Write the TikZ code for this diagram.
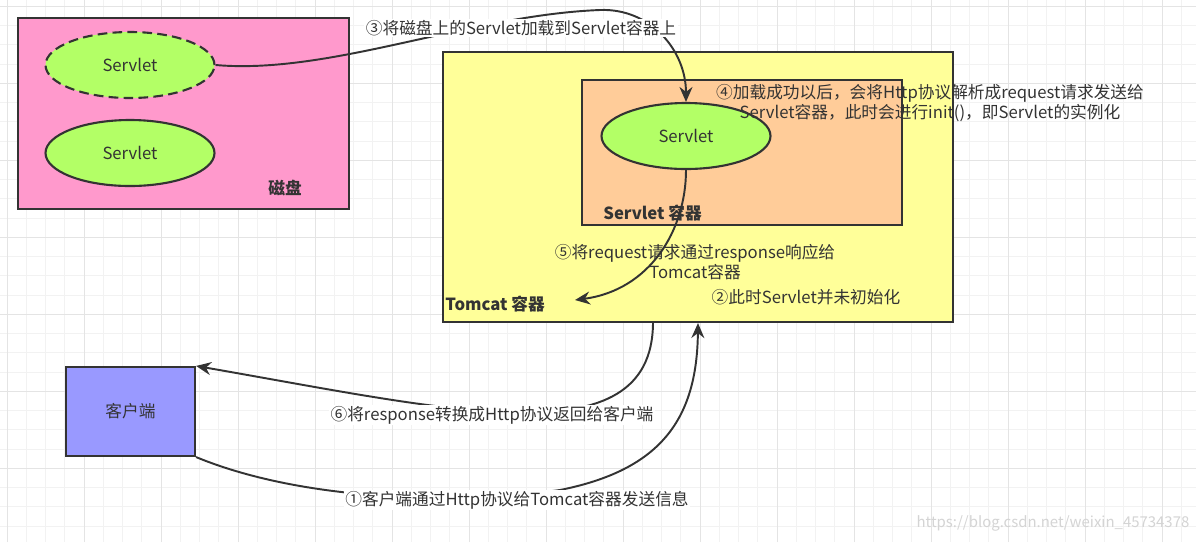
\documentclass[tikz,border=0pt]{standalone}
\usepackage{fontspec}
\setmainfont{Noto Sans CJK SC}
\usetikzlibrary{positioning, shapes.geometric, arrows.meta}
\definecolor{scDisk}{HTML}{FF99CC}
\definecolor{scTomcat}{HTML}{FFFF99}
\definecolor{scContainer}{HTML}{FFCC99}
\definecolor{scServlet}{HTML}{B3FF66}
\definecolor{scClient}{HTML}{9999FF}
\definecolor{scInk}{HTML}{333333}
\definecolor{scGridMinor}{HTML}{F2F2F2}
\definecolor{scGridMajor}{HTML}{E4E4E4}
\definecolor{scMark}{HTML}{D4D4D4}

\begin{document}
\begin{tikzpicture}[
  font=\fontsize{9.5}{11}\selectfont,
  text=scInk,
  box/.style={draw=scInk, line width=1.2pt, inner sep=0pt},
  oval/.style={ellipse, draw=scInk, line width=1.2pt, fill=scServlet,
               minimum width=3.38cm, minimum height=1.32cm},
  arr/.style={-{Stealth[length=3mm, width=2.6mm, inset=1mm]}, line width=1.1pt, draw=scInk},
  lab/.style={align=center, inner sep=1pt},
  tag/.style={lab, fill=white, inner ysep=0.5pt},
  title/.style={font=\fontsize{9.5}{11}\selectfont\bfseries, inner sep=0pt}
]

\useasboundingbox (0,0) rectangle (23.92,-10.84);
\fill[white] (0,0) rectangle (23.92,-10.84);

% background grid
\begin{scope}[shift={(0.14,-0.125)}]
  \draw[scGridMinor, line width=0.5pt, step=0.385cm] (-0.14,0.125) grid (23.78,-10.715);
  \draw[scGridMajor, line width=0.5pt, step=1.54cm] (-0.14,0.125) grid (23.78,-10.715);
\end{scope}

% ===== Disk =====
\node[box, fill=scDisk, minimum width=6.62cm, minimum height=3.82cm] (disk) at (3.67,-2.27) {};
\node[oval, dash pattern=on 5.5pt off 3pt] (dsrv) at (2.6,-1.3) {Servlet};
\node[oval] (ssrv) at (2.6,-3.06) {Servlet};
\node[title] (diskLab) at (5.7,-3.76) {磁盘};

% ===== Tomcat =====
\node[box, fill=scTomcat, minimum width=10.2cm, minimum height=5.4cm] (tc) at (13.96,-3.74) {};
\node[box, fill=scContainer, minimum width=6.4cm, minimum height=2.9cm] (sc) at (14.84,-3.05) {};
\node[oval] (srv) at (13.72,-2.72) {Servlet};
\node[title, anchor=west] (scLab) at (12.06,-4.26) {Servlet 容器};
\node[title, anchor=west] (tcLab) at (8.9,-6.08) {Tomcat 容器};

% ===== Client =====
\node[box, fill=scClient, minimum width=2.58cm, minimum height=1.78cm] (client) at (2.61,-8.23) {客户端};

% connectors
\coordinate (t5) at (11.5,-6.0);

\draw[arr] (dsrv.east) .. controls (6.6,-1.5) and (9.4,-0.3) .. (12.0,-0.2)
           .. controls (13.0,-0.16) and (13.72,-1.0) .. (srv.north);
\draw[arr] (srv.south) .. controls (13.72,-4.6) and (13.0,-5.8) .. (t5);
\draw[arr] (client.south east) .. controls (6.0,-10.0) and (9.0,-10.1) .. (11.2,-9.8)
           .. controls (13.2,-9.4) and (13.94,-8.4) .. (tc.south);
\draw[arr] ([xshift=-0.9cm]tc.south) .. controls (13.04,-9.2) and (9.0,-8.2) .. (client.north east);

% step labels
\node[tag] (l3) at (10.42,-0.56) {③将磁盘上的Servlet加载到Servlet容器上};
\node[lab] (l4) at (18.6,-2.06)
      {④加载成功以后，会将Http协议解析成request请求发送给\\Servlet容器，此时会进行init()，即Servlet的实例化};
\node[lab] (l5) at (13.9,-5.24) {⑤将request请求通过response响应给\\Tomcat容器};
\node[lab] (l2) at (16.12,-5.94) {②此时Servlet并未初始化};
\node[tag] (l6) at (9.84,-8.3) {⑥将response转换成Http协议返回给客户端};
\node[tag] (l1) at (10.34,-10.0) {①客户端通过Http协议给Tomcat容器发送信息};

\node[font=\fontsize{8.5}{10}\selectfont, text=scMark] (mark) at (21.06,-10.46)
      {https://blog.csdn.net/weixin\_45734378};

\end{tikzpicture}
\end{document}
